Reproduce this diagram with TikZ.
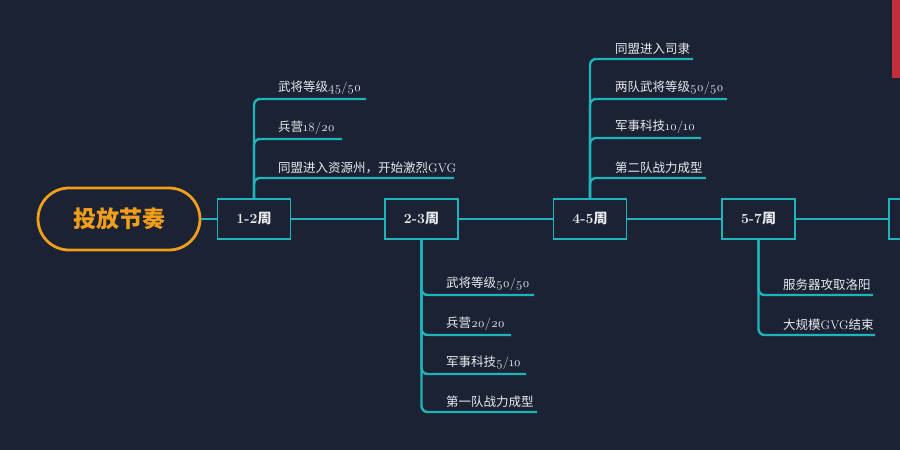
\documentclass[tikz,border=0pt]{standalone}
\usepackage{fontspec}
\setmainfont{Latin Modern Roman}
\newfontfamily\oldnum{Latin Modern Roman}[Numbers=OldStyle]
\newfontfamily\cjk{Noto Sans CJK SC}
\definecolor{bgc}{HTML}{1B2233}
\definecolor{teal}{HTML}{1FB3BC}
\definecolor{orng}{HTML}{F09E1C}
\definecolor{txt}{HTML}{E8EAEE}
\definecolor{redbar}{HTML}{C22F3A}
\tikzset{
  spine/.style={draw=teal, line width=2.4pt},
  branch/.style={draw=teal, line width=2.4pt, rounded corners=6pt},
  weekbox/.style={draw=teal, line width=1.8pt, fill=bgc, minimum width=73pt, minimum height=40pt, inner sep=0pt, text=txt, font=\bfseries\fontsize{14}{16}\selectfont},
  rootbox/.style={draw=orng, line width=2.8pt, fill=bgc, rounded corners=31pt, minimum width=162pt, minimum height=62pt, inner sep=0pt, text=orng, font=\cjk\bfseries\fontsize{23}{26}\selectfont},
  leaf/.style={anchor=south west, inner sep=0pt, text=txt, font=\oldnum\fontsize{12.5}{14}\selectfont}
}
\begin{document}
\begin{tikzpicture}[x=1pt, y=-1pt]
\fill[bgc] (0,0) rectangle (900,450);
\useasboundingbox (0,0) rectangle (900,450);
\clip (0,0) rectangle (900,450);
\fill[redbar] (892,0) rectangle (900,78);

\node[rootbox] (root) at (119,219) {投放节奏};
\node[weekbox] (b12) at (254,219) {1-2{\cjk 周}};
\node[weekbox] (b23) at (421.5,219) {2-3{\cjk 周}};
\node[weekbox] (b45) at (590,219) {4-5{\cjk 周}};
\node[weekbox] (b57) at (758.5,219) {5-7{\cjk 周}};
\node[weekbox] (b8) at (925.5,219) {};

\draw[spine] (root.east) -- (b12.west);
\draw[spine] (b12.east) -- (b23.west);
\draw[spine] (b23.east) -- (b45.west);
\draw[spine] (b45.east) -- (b57.west);
\draw[spine] (b57.east) -- (b8.west);

% 1-2 week
\coordinate (u11) at (366,99);
\coordinate (u12) at (342,139);
\coordinate (u13) at (454,178);
\draw[branch] (b12.north) |- (u11);
\draw[branch] (b12.north) |- (u12);
\draw[branch] (b12.north) |- (u13);
\node[leaf] (t11) at (278,95) {{\cjk 武将等级}45/50};
\node[leaf] (t12) at (278,135) {{\cjk 兵营}18/20};
\node[leaf] (t13) at (278,174) {{\cjk 同盟进入资源州，开始激烈}GVG};

% 2-3 week
\coordinate (u21) at (534,295);
\coordinate (u22) at (511,335);
\coordinate (u23) at (526,374);
\coordinate (u24) at (537,412);
\draw[branch] (b23.south) |- (u21);
\draw[branch] (b23.south) |- (u22);
\draw[branch] (b23.south) |- (u23);
\draw[branch] (b23.south) |- (u24);
\node[leaf] (t21) at (446,291) {{\cjk 武将等级}50/50};
\node[leaf] (t22) at (446,331) {{\cjk 兵营}20/20};
\node[leaf] (t23) at (446,370) {{\cjk 军事科技}5/10};
\node[leaf] (t24) at (446,408) {{\cjk 第一队战力成型}};

% 4-5 week
\coordinate (u41) at (693,59);
\coordinate (u42) at (727,99);
\coordinate (u43) at (701,138);
\coordinate (u44) at (706,178);
\draw[branch] (b45.north) |- (u41);
\draw[branch] (b45.north) |- (u42);
\draw[branch] (b45.north) |- (u43);
\draw[branch] (b45.north) |- (u44);
\node[leaf] (t41) at (615,55) {{\cjk 同盟进入司隶}};
\node[leaf] (t42) at (615,95) {{\cjk 两队武将等级}50/50};
\node[leaf] (t43) at (615,134) {{\cjk 军事科技}10/10};
\node[leaf] (t44) at (615,174) {{\cjk 第二队战力成型}};

% 5-7 week
\coordinate (u51) at (873,295);
\coordinate (u52) at (875,335);
\draw[branch] (b57.south) |- (u51);
\draw[branch] (b57.south) |- (u52);
\node[leaf] (t51) at (783,291) {{\cjk 服务器攻取洛阳}};
\node[leaf] (t52) at (783,331) {{\cjk 大规模}GVG{\cjk 结束}};
\end{tikzpicture}
\end{document}
